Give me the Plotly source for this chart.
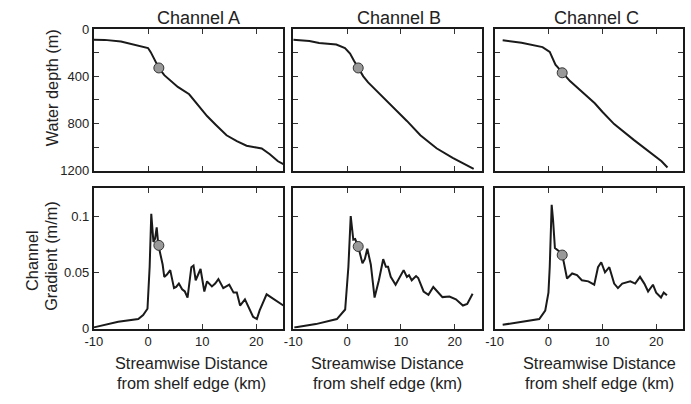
import plotly.graph_objects as go

W, H = 691, 404

# ---------------- data ----------------
channels = ["Channel A", "Channel B", "Channel C"]

A_depth_x = [-10, -8, -5, -2, 0, 0.5, 1.2, 2.0, 3, 4.2, 5.5, 7.6, 9, 10.9, 12.5, 14.5, 16.4, 18.2, 20, 21, 22.5, 24, 25]
A_depth = [90, 91, 105, 135, 160, 195, 260, 329, 390, 438, 490, 552, 630, 737, 810, 900, 950, 988, 1004, 1012, 1060, 1120, 1145]

B_depth_x = [-10, -7, -5.2, -2, -0.4, 0.55, 1.3, 2.06, 3.0, 3.9, 5.7, 8.1, 11.1, 13.6, 16.6, 19.6, 21.5, 23.5]
B_depth = [90, 100, 117, 130, 160, 207, 270, 329, 400, 452, 533, 642, 778, 900, 1010, 1091, 1140, 1185]

C_depth_x = [-8.5, -5, -1.1, 0.24, 1.3, 2.55, 4, 5.6, 8.6, 10, 12.2, 15.9, 19.5, 21, 22.1]
C_depth = [95, 115, 152, 193, 302, 370, 440, 506, 628, 700, 805, 941, 1064, 1120, 1173]

A_grad_x = [-10, -5.5, -1.8, -0.9, -0.1, 0.3, 0.6, 1.0, 1.3, 1.6, 1.9, 2.3, 2.7, 3.0, 3.5, 4.1, 4.8, 5.2, 5.7, 6.3,
            6.8, 7.3, 8.0, 8.4, 8.8, 9.7, 10.4, 10.9, 11.4, 11.8, 12.4, 13.0, 13.9, 14.5, 15.0, 15.8, 16.4, 17.0,
            17.9, 19.4, 20.1, 20.6, 21.9, 25]
A_grad = [0.0011, 0.006, 0.0085, 0.012, 0.0177, 0.055, 0.102, 0.077, 0.080, 0.090, 0.0745, 0.066, 0.057, 0.046,
          0.048, 0.052, 0.036, 0.037, 0.040, 0.035, 0.033, 0.0276, 0.0546, 0.056, 0.043, 0.053, 0.033, 0.042,
          0.039, 0.0375, 0.040, 0.044, 0.036, 0.038, 0.039, 0.032, 0.032, 0.0205, 0.026, 0.0105, 0.0085, 0.016,
          0.0305, 0.0205]

B_grad_x = [-9.8, -5.8, -1.9, -0.36, 0.24, 0.67, 1.15, 1.5, 2.06, 2.85, 3.3, 3.75, 4.4, 5.1, 5.9, 6.7, 7.2, 7.6,
            8.1, 9.0, 10.5, 11.1, 11.5, 12.0, 12.8, 13.2, 14.2, 15.1, 16.0, 16.9, 17.7, 19.0, 20.2, 21.5, 22.3, 23.3]
B_grad = [0.001, 0.004, 0.0085, 0.017, 0.055, 0.100, 0.079, 0.0796, 0.073, 0.058, 0.062, 0.071, 0.057, 0.0276,
          0.043, 0.0617, 0.055, 0.055, 0.046, 0.039, 0.052, 0.046, 0.0475, 0.043, 0.0467, 0.045, 0.033, 0.030,
          0.037, 0.0324, 0.028, 0.0285, 0.026, 0.0205, 0.022, 0.031]

C_grad_x = [-8.5, -1.7, -0.6, 0, 0.24, 0.6, 0.85, 1.2, 1.9, 2.55, 2.85, 3.45, 4.4, 5.3, 6.2, 7.4, 8.5, 9.2, 9.8,
            10.5, 11.3, 12.2, 12.9, 13.7, 15.2, 16.1, 17.0, 17.8, 18.5, 19.4, 20.0, 20.9, 21.4, 22.0]
C_grad = [0.0034, 0.0085, 0.016, 0.032, 0.055, 0.110, 0.097, 0.0717, 0.069, 0.0654, 0.059, 0.0446, 0.049, 0.0475,
          0.043, 0.042, 0.039, 0.0546, 0.059, 0.050, 0.0546, 0.040, 0.036, 0.040, 0.042, 0.040, 0.046, 0.040,
          0.033, 0.039, 0.032, 0.0276, 0.032, 0.0296]

marker_x = [2.0, 2.06, 2.55]
marker_depth = [329, 329, 370]
marker_grad = [0.074, 0.073, 0.0654]

depth_ticks = [0, 200, 400, 600, 800, 1000, 1200]
depth_ticktext = ["0", "", "400", "", "800", "", "1200"]
grad_ticks = [0, 0.05, 0.1]
grad_ticktext = ["0", "0.05", "0.1"]
dist_ticks = [-10, 0, 10, 20]
dist_ticktext = ["-10", "0", "10", "20"]

# ---------------- figure ----------------
FONT = "Liberation Sans, Arial, sans-serif"
TXT = "#222222"
LINE = "#1a1a1a"

depth_x = [A_depth_x, B_depth_x, C_depth_x]
depth_y = [A_depth, B_depth, C_depth]
grad_x = [A_grad_x, B_grad_x, C_grad_x]
grad_y = [A_grad, B_grad, C_grad]

fig = go.Figure()
for i in range(3):
    xt = "x" if i == 0 else f"x{i+1}"
    yt = "y" if i == 0 else f"y{i+1}"
    xb = f"x{i+4}"
    yb = f"y{i+4}"
    fig.add_trace(go.Scatter(x=depth_x[i], y=depth_y[i], mode="lines",
                             line=dict(color=LINE, width=2), xaxis=xt, yaxis=yt, showlegend=False))
    fig.add_trace(go.Scatter(x=[marker_x[i]], y=[marker_depth[i]], mode="markers",
                             marker=dict(size=10, color="#999999", line=dict(color="#333333", width=1)),
                             xaxis=xt, yaxis=yt, showlegend=False))
    fig.add_trace(go.Scatter(x=grad_x[i], y=grad_y[i], mode="lines",
                             line=dict(color=LINE, width=2), xaxis=xb, yaxis=yb, showlegend=False))
    fig.add_trace(go.Scatter(x=[marker_x[i]], y=[marker_grad[i]], mode="markers",
                             marker=dict(size=10, color="#999999", line=dict(color="#333333", width=1)),
                             xaxis=xb, yaxis=yb, showlegend=False))

xdoms = [(86, 278), (288, 479), (492, 683)]
ytop = (23, 170)
ybot = (188, 334)

def dom_x(p):
    return [p[0] / W, p[1] / W]

def dom_y(p):
    return [1 - p[1] / H, 1 - p[0] / H]

common = dict(showline=True, linewidth=2, linecolor=LINE, mirror="ticks", ticks="inside",
              ticklen=5, tickwidth=1, tickcolor="#333333", showgrid=False, zeroline=False,
              tickfont=dict(family=FONT, size=13, color=TXT))

layout = {}
for i in range(3):
    sx = "" if i == 0 else str(i + 1)
    layout[f"xaxis{sx}"] = dict(common, domain=dom_x(xdoms[i]), range=[-10, 25], anchor=f"y{sx}",
                                tickvals=dist_ticks, showticklabels=False)
    layout[f"yaxis{sx}"] = dict(common, domain=dom_y(ytop), range=[1200, 0], anchor=f"x{sx}",
                                tickvals=depth_ticks, ticktext=depth_ticktext, showticklabels=(i == 0))
    layout[f"xaxis{i+4}"] = dict(common, domain=dom_x(xdoms[i]), range=[-10, 25], anchor=f"y{i+4}",
                                 tickvals=dist_ticks, ticktext=dist_ticktext)
    layout[f"yaxis{i+4}"] = dict(common, domain=dom_y(ybot), range=[0, 0.125], anchor=f"x{i+4}",
                                 tickvals=grad_ticks, ticktext=grad_ticktext, showticklabels=(i == 0))

annotations = []
def ann(text, px, py, size, angle=0):
    annotations.append(dict(text=text, x=px / W, y=1 - py / H, xref="paper", yref="paper",
                            showarrow=False, xanchor="center", yanchor="middle", textangle=angle,
                            font=dict(family=FONT, size=size, color=TXT)))

title_cx = [192.5, 395, 595]
for i in range(3):
    ann(channels[i], title_cx[i], 11, 18)
xt_cx = [185, 383, 598]
for i in range(3):
    ann("Streamwise Distance", xt_cx[i], 370, 16.3)
    ann("from shelf edge (km)", xt_cx[i], 391, 16.3)
ann("Water depth (m)", 43, 84, 16.3, -90)
ann("Channel", 24, 263, 16.3, -90)
ann("Gradient (m/m)", 43, 259, 16.3, -90)

fig.update_layout(width=W, height=H, margin=dict(l=0, r=0, t=0, b=0),
                  paper_bgcolor="white", plot_bgcolor="white", annotations=annotations,
                  **layout)

fig.write_html("out.html")
